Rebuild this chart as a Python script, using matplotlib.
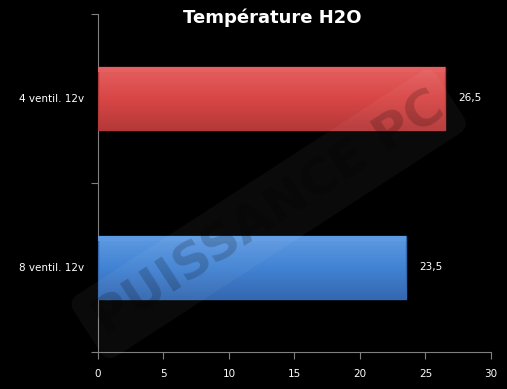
import matplotlib
matplotlib.use("Agg")
import matplotlib.pyplot as plt
import numpy as np
from matplotlib.colors import LinearSegmentedColormap

categories = ["8 ventil. 12v", "4 ventil. 12v"]
values = [23.5, 26.5]
value_labels = ["23,5", "26,5"]
colors_mid = ["#4283d4", "#d94646"]
colors_light = ["#5e9ae2", "#e46060"]
colors_dark = ["#3468b0", "#b53838"]
xticks = [0, 5, 10, 15, 20, 25, 30]

fig = plt.figure(figsize=(5.07, 3.89), dpi=100, facecolor="black")
ax = fig.add_axes([0.1933, 0.0951, 0.775, 0.869], facecolor="black")

ypos = np.arange(len(categories))
h = 0.37
for i, (v, lab) in enumerate(zip(values, value_labels)):
    cmap = LinearSegmentedColormap.from_list("g", [colors_dark[i], colors_mid[i], colors_light[i]])
    grad = np.linspace(0, 1, 100).reshape(-1, 1)
    ax.imshow(grad, cmap=cmap, aspect="auto", origin="lower",
              extent=[0, v, ypos[i] - h / 2, ypos[i] + h / 2], zorder=2)
    ax.barh(ypos[i], v, height=h, color="none", edgecolor=colors_dark[i], linewidth=1, zorder=3)
    ax.barh(ypos[i] + h / 2 - 0.015, v, height=0.03, color=colors_light[i], edgecolor="none", zorder=3)
    ax.text(v + 1.0, ypos[i], lab, color="white", fontsize=7.5, va="center", ha="left")

# watermark
fig.text(0.53, 0.45, "PUISSANCE PC", rotation=33, fontsize=36, fontweight="bold",
         color="black", alpha=0.18, ha="center", va="center", zorder=5,
         bbox=dict(boxstyle="round,pad=0.25", facecolor="white", edgecolor="none", alpha=0.045))

ax.set_xlim(0, 30)
ax.set_ylim(-0.5, 1.5)
ax.set_xticks(xticks)
ax.set_xticklabels([str(t) for t in xticks], color="white", fontsize=7.5)
ax.set_yticks([-0.5, 0.5, 1.5])
ax.set_yticks(ypos, minor=True)
ax.set_yticklabels([])
ax.set_yticklabels(categories, minor=True, color="white", fontsize=7.5)
ax.tick_params(axis="y", which="minor", length=0, pad=10)
ax.tick_params(axis="y", which="major", length=5, color="#808080")
ax.tick_params(axis="x", length=5, color="#808080", pad=7)
for s in ["top", "right"]:
    ax.spines[s].set_visible(False)
for s in ["left", "bottom"]:
    ax.spines[s].set_color("#808080")

fig.text(0.537, 0.955, "Température H2O", color="white", fontsize=13, fontweight="bold",
         ha="center", va="center")

fig.savefig("out.png", dpi=100, facecolor="black")
